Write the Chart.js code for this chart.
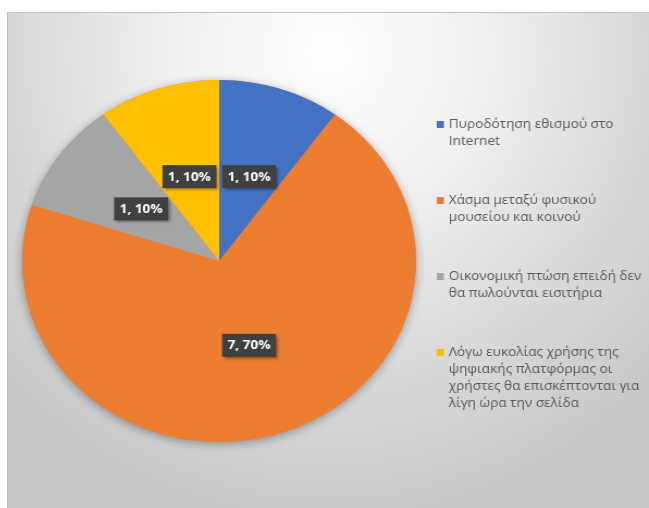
<!DOCTYPE html>
<html lang="el">
<head>
<meta charset="UTF-8">
<title>Pie chart</title>
<script src="https://cdn.jsdelivr.net/npm/chart.js"></script>
<style>
  html, body { margin: 0; padding: 0; background: #fff; }
  #frame {
    position: absolute; left: 7px; top: 12px; width: 642px; height: 496px;
    border-top: 1px solid #c2c2c2; border-left: 1px solid #c2c2c2;
    box-sizing: border-box; overflow: hidden;
    background: radial-gradient(ellipse 70% 95% at 50% 8%, #ffffff 0%, #f0f0f0 35%, #d6d6d6 75%, #c8c8c8 100%);
  }
  /* the reference picture is stretched sideways, so the canvas is too */
  #stretch { position: absolute; left: -1px; top: -1px; width: 590px; height: 496px; transform: scaleX(1.0881); transform-origin: 0 0; }
</style>
</head>
<body>
<div id="frame">
  <div id="stretch"><canvas id="pie" width="590" height="496"></canvas></div>
</div>
<script>
  // categories (one entry per legend line)
  const categories = [
    ['Πυροδότηση εθισμού στο', 'Internet'],
    ['Χάσμα μεταξύ φυσικού', 'μουσείου και κοινού'],
    ['Οικονομική πτώση επειδή δεν', 'θα πωλούνται εισιτήρια'],
    ['Λόγω ευκολίας χρήσης της', 'ψηφιακής πλατφόρμας οι', 'χρήστες θα επισκέπτονται για', 'λίγη ώρα την σελίδα']
  ];
  const values = [1, 7, 1, 1];
  const colors = ['#4472C4', '#ED7D31', '#A5A5A5', '#FFC000'];

  // soft shadow under the whole pie
  const pieShadow = {
    id: 'pieShadow',
    beforeDatasetsDraw(chart) {
      const arc = chart.getDatasetMeta(0).data[0];
      const ctx = chart.ctx;
      ctx.save();
      ctx.shadowColor = 'rgba(0,0,0,0.35)';
      ctx.shadowBlur = 10;
      ctx.shadowOffsetY = 2;
      ctx.fillStyle = '#ED7D31';
      ctx.beginPath();
      ctx.arc(arc.x, arc.y, arc.outerRadius, 0, Math.PI * 2);
      ctx.fill();
      ctx.restore();
    }
  };

  // "value, percent" labels in dark boxes
  const sliceLabels = {
    id: 'sliceLabels',
    afterDatasetsDraw(chart) {
      const ctx = chart.ctx;
      const data = chart.data.datasets[0].data;
      const total = data.reduce((a, b) => a + b, 0);
      ctx.save();
      ctx.font = 'bold 12.5px "Open Sans", sans-serif';
      ctx.textAlign = 'center';
      ctx.textBaseline = 'middle';
      chart.getDatasetMeta(0).data.forEach((arc, i) => {
        const mid = (arc.startAngle + arc.endAngle) / 2;
        const d = arc.outerRadius * 0.49;
        const x = arc.x + Math.cos(mid) * d;
        const y = arc.y + Math.sin(mid) * d;
        const txt = data[i] + ', ' + Math.round(data[i] / total * 100) + '%';
        const w = ctx.measureText(txt).width + 10;
        const h = 23;
        ctx.save();
        ctx.shadowColor = 'rgba(0,0,0,0.45)';
        ctx.shadowBlur = 3;
        ctx.shadowOffsetX = 2;
        ctx.shadowOffsetY = 2;
        ctx.fillStyle = '#404040';
        ctx.fillRect(x - w / 2, y - h / 2, w, h);
        ctx.restore();
        ctx.fillStyle = '#ffffff';
        ctx.fillText(txt, x, y + 0.5);
      });
      ctx.restore();
    }
  };

  // legend on the right, items spread like the original
  const sideLegend = {
    id: 'sideLegend',
    afterDraw(chart) {
      const ctx = chart.ctx;
      const arc = chart.getDatasetMeta(0).data[0];
      const lh = 17, gap = 42;
      const labels = chart.data.labels;
      const nLines = labels.reduce((n, l) => n + l.length, 0);
      const blockH = nLines * lh + gap * (labels.length - 1);
      let y = arc.y + 3 - blockH / 2 + lh / 2;
      ctx.save();
      ctx.font = '12.5px "Open Sans", sans-serif';
      ctx.textBaseline = 'middle';
      labels.forEach((lines, i) => {
        ctx.fillStyle = chart.data.datasets[0].backgroundColor[i];
        ctx.fillRect(395, y - 3.5, 6.5, 7);
        ctx.fillStyle = '#595959';
        lines.forEach((t, j) => ctx.fillText(t, 406, y + j * lh));
        y += lines.length * lh + gap;
      });
      ctx.restore();
    }
  };

  new Chart(document.getElementById('pie'), {
    type: 'pie',
    data: {
      labels: categories,
      datasets: [{
        data: values,
        backgroundColor: colors,
        borderWidth: 0
      }]
    },
    options: {
      responsive: false,
      animation: false,
      layout: { padding: { left: 14, right: 214, top: 68, bottom: 66 } },
      plugins: {
        legend: { display: false },
        tooltip: { enabled: false }
      }
    },
    plugins: [pieShadow, sliceLabels, sideLegend]
  });
</script>
</body>
</html>
